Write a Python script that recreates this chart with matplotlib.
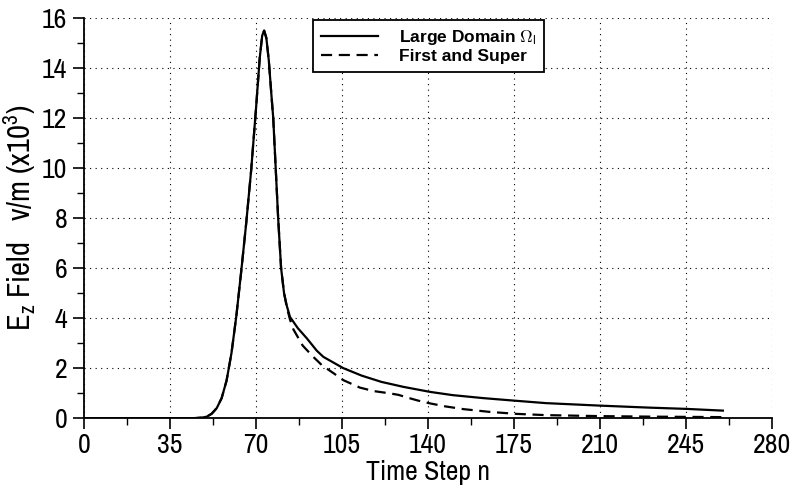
'''
Ez field at the observation point: large domain vs first and super
'''
import numpy as np
import matplotlib
matplotlib.use('Agg')
import matplotlib.pyplot as plt
from matplotlib.ticker import MultipleLocator

# values
t_large = [0, 45, 48, 50, 52, 54, 56, 58, 60, 62, 64, 66, 68, 70, 71.5, 72.5, 73.3, 74.2,
           75.2, 76.2, 77, 78, 79, 80.2, 81.4, 82.5, 83.8, 87, 90.6, 94.7, 97.4, 105.5, 113,
           121, 130, 140.8, 150, 162.5, 175, 188, 210, 230, 245, 260]
ez_large = [0, 0, 0.02, 0.06, 0.18, 0.4, 0.8, 1.5, 2.6, 4.1, 5.9, 7.8, 9.9, 12.4, 14.4, 15.3, 15.5, 15.2,
            14.3, 13.0, 12.0, 10.0, 8.0, 6.0, 5.0, 4.5, 4.05, 3.6, 3.2, 2.7, 2.45, 2.0, 1.7,
            1.45, 1.25, 1.05, 0.92, 0.8, 0.7, 0.6, 0.5, 0.42, 0.37, 0.3]

t_super = [0, 45, 48, 50, 52, 54, 56, 58, 60, 62, 64, 66, 68, 70, 71.5, 72.5, 73.3, 74.2,
           75.2, 76.2, 77, 78, 79, 80.2, 81.4, 82.5, 83.8, 85.2, 89, 93.3, 97, 101.5, 105.5,
           112.3, 118, 124.5, 128, 131.3, 136, 140.8, 147, 154.4, 165, 176, 188, 210, 230, 245, 260]
ez_super = [0, 0, 0.02, 0.06, 0.18, 0.4, 0.8, 1.5, 2.6, 4.1, 5.9, 7.8, 9.9, 12.4, 14.4, 15.3, 15.5, 15.2,
            14.3, 13.0, 12.0, 10.0, 8.0, 6.0, 5.0, 4.45, 3.95, 3.55, 2.9, 2.45, 2.1, 1.8, 1.52,
            1.22, 1.08, 0.99, 0.93, 0.83, 0.7, 0.59, 0.47, 0.36, 0.25, 0.17, 0.12, 0.08, 0.06, 0.05, 0.04]

x_ticks = [0, 35, 70, 105, 140, 175, 210, 245, 280]
y_ticks = [0, 2, 4, 6, 8, 10, 12, 14, 16]

# narrow face if there is one, plain sans otherwise
plt.rcParams['font.family'] = ['Archivo Narrow', 'Liberation Sans', 'DejaVu Sans']
plt.rcParams['mathtext.fontset'] = 'custom'
plt.rcParams['mathtext.rm'] = 'Archivo Narrow'
plt.rcParams['mathtext.it'] = 'Archivo Narrow'

fig = plt.figure(figsize=(7.93, 4.96), dpi=100)
ax = fig.add_axes([0.106, 0.157, 0.8675, 0.8065])

ax.plot(t_large, ez_large, color='black', lw=1.6, label=r'Large Domain $\Omega_\mathrm{I}$')
ax.plot(t_super, ez_super, color='black', lw=1.6, ls=(0, (5, 3)), label='First and Super')

ax.set_xlim(0, 280)
ax.set_ylim(0, 16)
ax.set_xticks(x_ticks)
ax.set_yticks(y_ticks)
ax.xaxis.set_minor_locator(MultipleLocator(17.5))
ax.yaxis.set_minor_locator(MultipleLocator(1))
ax.tick_params(which='major', direction='out', length=8, width=1.2, labelsize=20)
ax.tick_params(which='minor', direction='out', length=5, width=1.0)
ax.tick_params(axis='x', pad=3)
ax.tick_params(axis='y', pad=4)

for s in ['top', 'right']:
    ax.spines[s].set_visible(False)
for s in ['left', 'bottom']:
    ax.spines[s].set_linewidth(1.3)

ax.grid(True, which='major', ls=(0, (1, 4)), color='black', lw=0.8)

ax.set_xlabel('Time Step n', fontsize=20, labelpad=1)
ax.set_ylabel(r'E$_\mathrm{z}$ Field   v/m (x10$^\mathrm{3}$)', fontsize=22, labelpad=3)

leg = ax.legend(loc='upper left', bbox_to_anchor=(0.333, 0.995), borderaxespad=0,
                fancybox=False, framealpha=1, edgecolor='black', handlelength=3.3,
                prop={'family': ['Liberation Sans', 'DejaVu Sans'], 'weight': 'bold', 'size': 12.5},
                labelspacing=0.1, borderpad=0.45, handletextpad=1.2)
leg.get_frame().set_linewidth(1.3)

fig.savefig('out.png', dpi=100)
